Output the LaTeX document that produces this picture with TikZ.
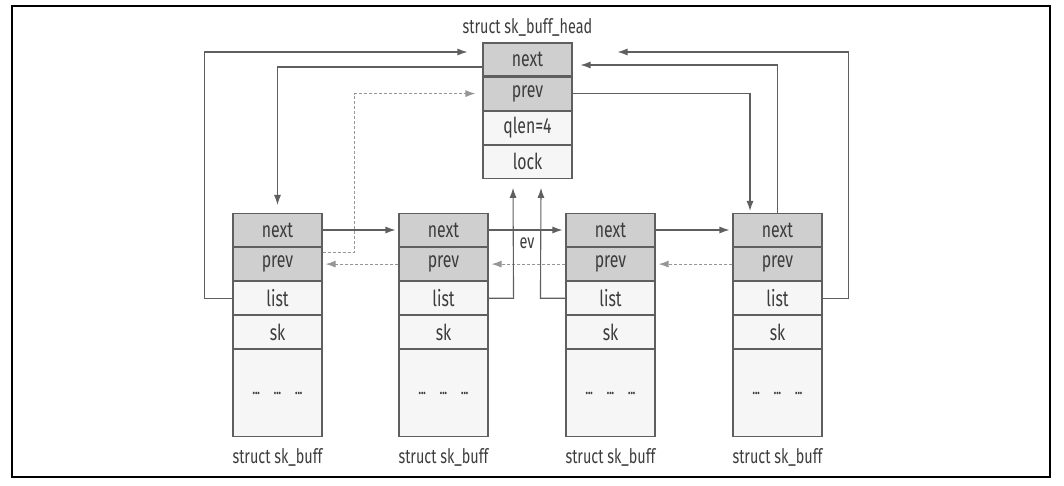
\documentclass[tikz,border=0pt]{standalone}
\usepackage{fontspec}
\setmainfont{Fira Sans}[FakeStretch=0.72]
\usetikzlibrary{positioning,arrows.meta}

\definecolor{inkgray}{RGB}{60,60,60}
\definecolor{linegray}{RGB}{95,95,95}
\definecolor{dashgray}{RGB}{150,150,150}

\tikzset{
  cell/.style={draw=linegray, line width=1.1pt, minimum width=89pt, minimum height=33pt,
    inner sep=0pt, text=inkgray, font=\fontsize{22}{24}\selectfont},
  ptr/.style={cell, fill=gray!38},
  plain/.style={cell, fill=gray!7},
  rest/.style={cell, fill=gray!7, minimum height=87pt},
  caption/.style={text=inkgray, font=\fontsize{20}{22}\selectfont},
  link/.style={draw=linegray, line width=1.1pt, -{Latex[length=10pt,width=7pt]}},
  back/.style={draw=dashgray, line width=1.1pt, densely dashed, -{Latex[length=10pt,width=7pt]}}
}
\newcommand{\dotrow}{\fontsize{14}{16}\selectfont\textbf{...}\quad\textbf{...}\quad\textbf{...}}

\begin{document}
\begin{tikzpicture}[x=1pt, y=-1pt]
  \useasboundingbox (0,0) rectangle (1064,486);
  \draw[line width=1.2pt] (12,6) rectangle (1050,477);

  % sk_buff_head
  \node[ptr] (hnext) at (527.5,59.5) {next};
  \node[ptr, below=0pt of hnext] (hprev) {prev};
  \node[plain, below=0pt of hprev] (hqlen) {qlen=4};
  \node[plain, below=0pt of hqlen] (hlock) {lock};
  \node[caption, above=3pt of hnext] (hname) {struct sk\_buff\_head};

  % sk_buff 1
  \node[ptr] (anext) at (277.5,230) {next};
  \node[ptr, below=0pt of anext] (aprev) {prev};
  \node[plain, below=0pt of aprev] (alist) {list};
  \node[plain, below=0pt of alist] (ask) {sk};
  \node[rest, below=0pt of ask] (arest) {\dotrow};
  \node[caption, below=8pt of arest] (aname) {struct sk\_buff};

  % sk_buff 2
  \node[ptr] (bnext) at (443.5,230) {next};
  \node[ptr, below=0pt of bnext] (bprev) {prev};
  \node[plain, below=0pt of bprev] (blist) {list};
  \node[plain, below=0pt of blist] (bsk) {sk};
  \node[rest, below=0pt of bsk] (brest) {\dotrow};
  \node[caption, below=8pt of brest] (bname) {struct sk\_buff};

  % sk_buff 3
  \node[ptr] (cnext) at (610.5,230) {next};
  \node[ptr, below=0pt of cnext] (cprev) {prev};
  \node[plain, below=0pt of cprev] (clist) {list};
  \node[plain, below=0pt of clist] (csk) {sk};
  \node[rest, below=0pt of csk] (crest) {\dotrow};
  \node[caption, below=8pt of crest] (cname) {struct sk\_buff};

  % sk_buff 4
  \node[ptr] (dnext) at (777.5,230) {next};
  \node[ptr, below=0pt of dnext] (dprev) {prev};
  \node[plain, below=0pt of dprev] (dlist) {list};
  \node[plain, below=0pt of dlist] (dsk) {sk};
  \node[rest, below=0pt of dsk] (drest) {\dotrow};
  \node[caption, below=8pt of drest] (dname) {struct sk\_buff};

  \node[caption] (evlabel) at (527,243) {ev};

  % next pointers
  \draw[link] (anext.east) -- ([xshift=-3pt]bnext.west);
  \draw[link] (bnext.east) -- ([xshift=-3pt]cnext.west);
  \draw[link] (cnext.east) -- ([xshift=-3pt]dnext.west);

  % prev pointers
  \draw[back] (bprev.west) -- ([xshift=3pt]aprev.east);
  \draw[back] (cprev.west) -- ([xshift=3pt]bprev.east);
  \draw[back] (dprev.west) -- ([xshift=3pt]cprev.east);

  % head links
  \draw[link] ([yshift=-7.5pt]hnext.west) -| ([yshift=8pt]anext.north);
  \draw[back] ([yshift=-5pt]aprev.north east) -- ++(32,0) |- ([xshift=-7pt]hprev.west);
  \draw[link] (hprev.east) -| ([xshift=-27.5pt,yshift=2pt]dnext.north);
  \draw[link] (dnext.north) |- ([xshift=8pt,yshift=-5.5pt]hnext.east);

  % list links
  \draw[link] (alist.west) -- ++(-28,0) |- ([xshift=-15pt,yshift=7.5pt]hnext.west);
  \draw[link] (dlist.east) -- ++(26,0) |- ([xshift=45pt,yshift=7.5pt]hnext.east);
  \draw[link] (blist.east) -- ++(25,0) -- ([xshift=-14.5pt,yshift=-9pt]hlock.south);
  \draw[link] (clist.west) -- ++(-25,0) -- ([xshift=13.5pt,yshift=-9pt]hlock.south);
\end{tikzpicture}
\end{document}
